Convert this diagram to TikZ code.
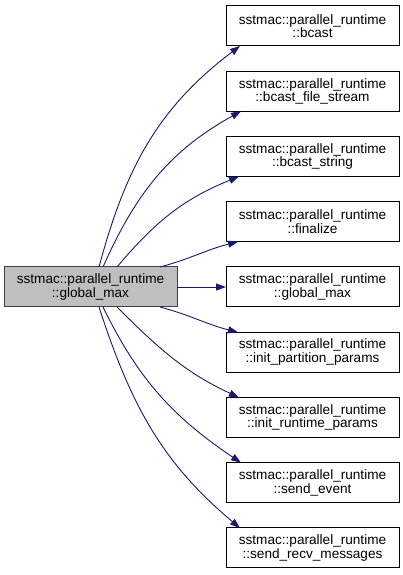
\documentclass[tikz,border=0pt]{standalone}
\usepackage{fontspec}
\setmainfont{Liberation Sans}
\definecolor{edgeBlue}{HTML}{191970}
\definecolor{mainFill}{HTML}{BFBFBF}
\definecolor{mainLine}{HTML}{404040}
\usetikzlibrary{arrows.meta, positioning}

\tikzset{
  fn/.style={draw=black, fill=white, line width=1pt, minimum width=173pt,
    minimum height=40pt, inner sep=0pt, outer sep=0pt, align=center,
    font=\fontsize{13.6}{13.6}\selectfont},
  fnmain/.style={fn, fill=mainFill, draw=mainLine},
  call/.style={-{Triangle[length=10pt,width=7pt]}, edgeBlue, line width=0.9pt},
}

\begin{document}
\begin{tikzpicture}[x=1pt, y=1pt]
  \useasboundingbox (0,0) rectangle (403,575);
  % caller
  \node[fnmain] (gmax) at (90.5,288) {sstmac::parallel\_runtime\\::global\_max};
  % callees
  \node[fn] (bcast) at (312.5,549) {sstmac::parallel\_runtime\\::bcast};
  \node[fn, below=25.25pt of bcast] (bfile) {sstmac::parallel\_runtime\\::bcast\_file\_stream};
  \node[fn, below=25.25pt of bfile] (bstr) {sstmac::parallel\_runtime\\::bcast\_string};
  \node[fn, below=25.25pt of bstr] (fin) {sstmac::parallel\_runtime\\::finalize};
  \node[fn, below=25.25pt of fin] (gmaxr) {sstmac::parallel\_runtime\\::global\_max};
  \node[fn, below=25.25pt of gmaxr] (ipart) {sstmac::parallel\_runtime\\::init\_partition\_params};
  \node[fn, below=25.25pt of ipart] (irun) {sstmac::parallel\_runtime\\::init\_runtime\_params};
  \node[fn, below=25.25pt of irun] (sev) {sstmac::parallel\_runtime\\::send\_event};
  \node[fn, below=25.25pt of sev] (srecv) {sstmac::parallel\_runtime\\::send\_recv\_messages};
  % calls going up
  \draw[call] ([xshift=95pt]gmax.north west) to[out=75, in=217] ([xshift=14pt]bcast.south west);
  \draw[call] ([xshift=99pt]gmax.north west) to[out=66, in=209] ([xshift=15pt]bfile.south west);
  \draw[call] ([xshift=113pt]gmax.north west) to[out=50, in=202] ([xshift=13pt]bstr.south west);
  \draw[call] ([xshift=156pt]gmax.north west) to[out=15, in=194] ([xshift=12pt]fin.south west);
  % straight call
  \draw[call] (gmax.east) -- (gmaxr.west);
  % calls going down
  \draw[call] ([xshift=156pt]gmax.south west) to[out=-15, in=166] ([xshift=12pt]ipart.north west);
  \draw[call] ([xshift=113pt]gmax.south west) to[out=-45, in=155] ([xshift=13pt]irun.north west);
  \draw[call] ([xshift=99pt]gmax.south west) to[out=-64, in=146] ([xshift=15pt]sev.north west);
  \draw[call] ([xshift=95pt]gmax.south west) to[out=-72, in=140] ([xshift=14pt]srecv.north west);
\end{tikzpicture}
\end{document}
